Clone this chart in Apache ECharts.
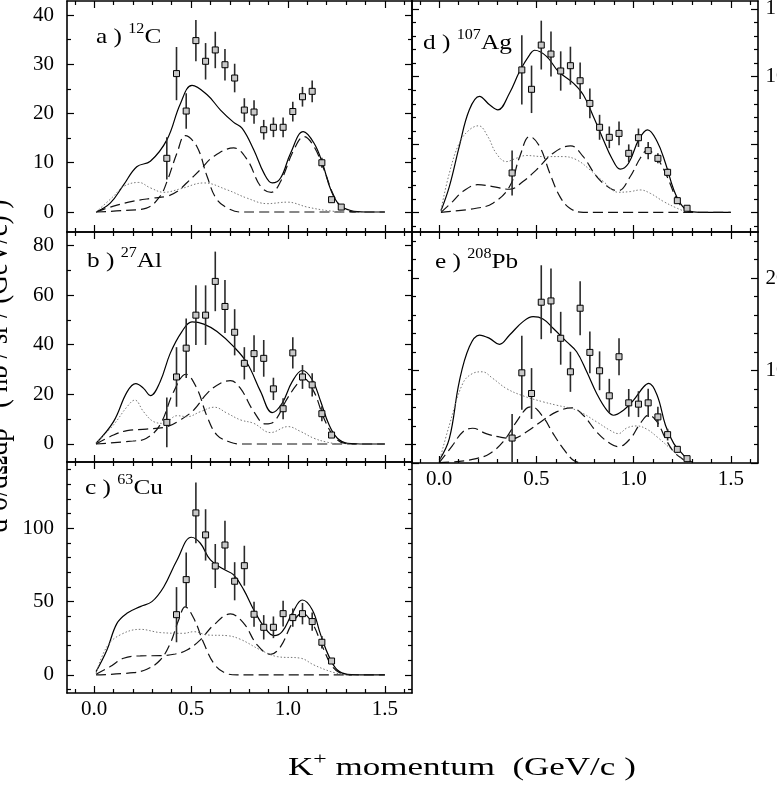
<!DOCTYPE html>
<html lang="en">
<head>
<meta charset="UTF-8">
<title>K+ momentum spectra</title>
<script src="https://cdn.jsdelivr.net/npm/echarts@6/dist/echarts.min.js"></script>
<style>
html, body { margin: 0; padding: 0; background: #fff; }
#main { width: 777px; height: 788px; }
</style>
</head>
<body>
<div id="main"></div>
<script>
// momenta of the measured points (GeV/c)
var momBins = [0.375, 0.425, 0.475, 0.525, 0.575, 0.625, 0.675, 0.725, 0.775, 0.825,
               0.875, 0.925, 0.975, 1.025, 1.075, 1.125, 1.175, 1.225, 1.275];

// x ticks
var xMajor = [0, 0.5, 1.0, 1.5];
var xMinor = [-0.1, 0.1, 0.2, 0.3, 0.4, 0.6, 0.7, 0.8, 0.9, 1.1, 1.2, 1.3, 1.4, 1.6];

// a) 12C
var aVal = [10.9, 28.1, 20.5, 34.8, 30.6, 32.9, 29.9, 27.2, 20.7, 20.3, 16.7, 17.2, 17.2, 20.4, 23.4, 24.5, 10.0, 2.5, 1.0];
var aErr = [4.3, 5.4, 3.6, 4.2, 3.7, 3.7, 3.2, 2.9, 2.4, 2.4, 2.0, 2.0, 2.0, 2.0, 2.0, 2.2, 1.0, 0.5, 0.3];
var aTotal = [[0.01,0],[0.083,1.8],[0.152,5.5],[0.22,9.2],[0.29,10.3],[0.376,14.7],[0.445,22],[0.505,25.7],[0.583,23.8],[0.652,20.7],[0.72,18.2],[0.764,17],[0.824,12.6],[0.876,7.9],[0.919,5.9],[0.962,6.9],[1.014,12],[1.079,16.3],[1.134,14],[1.178,9.9],[1.221,4.5],[1.264,1.5],[1.324,0.3],[1.4,0],[1.5,0]];
var aLow = [[0.01,0],[0.15,0.3],[0.27,0.8],[0.34,3.2],[0.376,6.2],[0.428,12],[0.47,15.5],[0.53,13.3],[0.583,7.2],[0.634,2.5],[0.703,0.5],[0.755,0],[1.5,0]];
var aHigh = [[0.01,0],[0.1,1.2],[0.203,2.2],[0.3,2.8],[0.376,3.2],[0.43,4.2],[0.48,6],[0.548,8.6],[0.617,11.3],[0.72,13],[0.79,10.6],[0.859,5.2],[0.914,4],[0.962,6.2],[1.03,12.6],[1.083,15.3],[1.134,13.3],[1.186,8.6],[1.238,3.2],[1.29,0.5],[1.35,0]];
var aDot = [[0.01,0],[0.1,3.2],[0.152,5.2],[0.23,6],[0.29,4.9],[0.36,4],[0.445,4.7],[0.566,5.9],[0.686,4.5],[0.79,2.8],[0.893,1.7],[0.997,2],[1.1,1],[1.2,0.3],[1.28,0]];

// b) 27Al
var bVal = [8.7, 27, 38.6, 51.9, 51.9, 65.5, 55.4, 45, 32.5, 36.4, 34.5, 22.2, 14.2, 36.7, 27, 23.8, 12.2, 3.6];
var bErr = [10, 12, 12, 12, 12, 12, 10.7, 9.3, 6.5, 7.4, 7.4, 4.5, 4.2, 6.3, 4.8, 4.7, 3, 1.2];
var bTotal = [[0.01,0.3],[0.1,9],[0.17,21],[0.215,24.3],[0.255,22.4],[0.29,19.5],[0.34,25],[0.393,36.6],[0.453,45.3],[0.505,49.2],[0.566,48.3],[0.634,45.3],[0.72,39.2],[0.79,32.5],[0.859,21.1],[0.919,12.6],[0.97,16.4],[1.022,25.1],[1.074,29.6],[1.126,25.8],[1.169,17.1],[1.212,7.7],[1.255,2.3],[1.307,0.3],[1.4,0],[1.5,0]];
var bLow = [[0.01,0],[0.2,1.2],[0.27,2.3],[0.34,7.7],[0.41,21],[0.474,28.1],[0.53,22.4],[0.583,11],[0.634,3.6],[0.703,0.7],[0.755,0],[1.5,0]];
var bHigh = [[0.01,0],[0.1,3.6],[0.17,5.4],[0.27,6],[0.376,7],[0.445,9.7],[0.514,13.7],[0.583,20.4],[0.652,24.5],[0.703,25.5],[0.755,22.4],[0.824,13],[0.884,8.1],[0.928,9],[0.997,18.4],[1.066,25.8],[1.083,26.2],[1.134,21.1],[1.186,10.3],[1.238,3],[1.29,0.3],[1.35,0]];
var bDot = [[0.01,0.3],[0.1,7.7],[0.17,15],[0.21,17.7],[0.255,13],[0.307,9],[0.359,8.3],[0.428,11.4],[0.48,11],[0.548,13],[0.62,14.8],[0.686,12.4],[0.755,9.7],[0.824,8.3],[0.91,4.6],[1.0,7],[1.066,5],[1.134,2.3],[1.203,0.7],[1.255,0]];

// c) 63Cu
var cVal = [41.1, 65, 110.5, 95.5, 74.3, 88.6, 63.9, 74.5, 41.4, 32.5, 32.5, 41.8, 39.1, 41.8, 36.4, 22.3, 9.5];
var cErr = [18.8, 18.5, 20.7, 17.5, 15, 16.6, 13, 13.6, 8.5, 8.3, 7.4, 8.8, 6.2, 7.3, 6.2, 4.2, 2];
var cTotal = [[0.01,2.3],[0.066,17],[0.117,35],[0.169,42],[0.238,46.6],[0.298,50],[0.359,60],[0.428,78.4],[0.502,93.9],[0.548,89.8],[0.6,78.4],[0.669,72],[0.72,68.2],[0.772,58],[0.824,44.3],[0.876,33],[0.928,26.8],[0.97,29.5],[1.022,42],[1.074,51.1],[1.126,44.3],[1.169,27.3],[1.212,12.5],[1.255,3.4],[1.307,0.5],[1.4,0],[1.5,0]];
var cLow = [[0.01,0],[0.203,1.6],[0.272,3.9],[0.341,10.2],[0.393,21.6],[0.436,37.5],[0.47,46.4],[0.514,38.6],[0.566,21.6],[0.617,8],[0.669,1.8],[0.738,0],[1.5,0]];
var cHigh = [[0.01,0.5],[0.083,5.7],[0.152,11.4],[0.238,13],[0.341,13.2],[0.419,14.3],[0.479,17],[0.548,23.9],[0.617,34.1],[0.703,41.6],[0.772,35.2],[0.841,20.5],[0.91,14.1],[0.962,19.3],[1.022,35.2],[1.074,42],[1.126,35.2],[1.178,19.3],[1.229,5.7],[1.281,0.7],[1.33,0]];
var cDot = [[0.01,1.1],[0.066,19.3],[0.134,27.3],[0.238,31.1],[0.341,28.9],[0.462,28.4],[0.514,29.5],[0.583,27.3],[0.686,26.8],[0.755,24.3],[0.859,17],[0.945,12.5],[1.066,11.4],[1.134,6.8],[1.221,2.3],[1.29,0]];

// d) 107Ag
var dVal = [29, 105, 90.7, 123.3, 116.7, 104.2, 108.1, 97, 80.3, 62.7, 55.3, 58.2, 43.5, 55, 45.5, 39.8, 29.5, 8.6, 3];
var dErr = [16.6, 25.5, 17.5, 18, 16.6, 14.5, 14, 13.5, 11, 9.2, 8, 8.8, 6.6, 6.8, 6.4, 3.7, 3, 2, 1];
var dTotal = [[0.009,1.2],[0.052,19],[0.103,48.5],[0.155,75.6],[0.207,85.5],[0.259,79.3],[0.302,75.6],[0.362,88],[0.414,104],[0.466,116.3],[0.491,119.5],[0.552,115],[0.612,104],[0.69,95.3],[0.741,86.7],[0.793,70.7],[0.845,53.4],[0.888,39.9],[0.931,31.8],[0.974,36.2],[1.026,53.4],[1.072,60.8],[1.121,52.2],[1.164,36.2],[1.207,16.5],[1.25,4.7],[1.293,0.7],[1.36,0],[1.5,0]];
var dLow = [[0.009,0],[0.19,3],[0.276,6.7],[0.362,19],[0.414,41],[0.466,55.9],[0.517,48.5],[0.569,28.8],[0.621,11.6],[0.672,3],[0.741,0],[1.5,0]];
var dHigh = [[0.009,0],[0.069,7.9],[0.121,15.3],[0.198,20.4],[0.276,19],[0.362,17],[0.431,22.7],[0.5,31.3],[0.586,43.6],[0.676,49],[0.741,41],[0.81,26.4],[0.879,17.7],[0.922,16],[0.983,26.4],[1.034,39.9],[1.072,45.8],[1.121,39.9],[1.172,26.4],[1.224,9.1],[1.267,1.7],[1.31,0]];
var dDot = [[0.009,1.7],[0.052,28.8],[0.103,51],[0.155,60.8],[0.203,63.8],[0.25,55.9],[0.293,43.6],[0.345,37.4],[0.397,39.9],[0.448,41.9],[0.534,41.1],[0.638,41.1],[0.707,38.7],[0.776,31.3],[0.845,22.7],[0.922,14.8],[0.983,15.3],[1.034,16.5],[1.086,14],[1.155,7.9],[1.224,3],[1.276,0]];

// e) 208Pb
var eVal = [27, 97.6, 75.2, 174, 175.4, 135, 98.7, 167.5, 119.7, 99.8, 72.7, 115, 65.1, 63.7, 65.1, 49.9, 30.7, 14.8, 4.7];
var eErr = [26, 40, 27.5, 40, 35, 28.6, 21.7, 29.3, 22.6, 21, 18.4, 20, 15, 14, 15.3, 10.9, 6.3, 3.5, 1.5];
var eTotal = [[0.0,2.9],[0.052,26.4],[0.103,87.9],[0.155,125.9],[0.207,138.5],[0.259,134.9],[0.31,128.4],[0.362,138.5],[0.431,153],[0.483,158.4],[0.534,155.9],[0.586,145.8],[0.655,131.3],[0.707,120.4],[0.759,98.7],[0.81,75.2],[0.862,57.1],[0.897,51.7],[0.948,57.1],[1.0,68],[1.052,82.5],[1.078,86.1],[1.121,73.4],[1.164,40.9],[1.207,21],[1.25,10.1],[1.276,4],[1.3,1]];
var eLow = [[0.0,0.4],[0.103,1.8],[0.19,4.7],[0.259,10.1],[0.328,22.8],[0.397,44.5],[0.448,59],[0.474,60.8],[0.534,49.9],[0.586,31.8],[0.638,15.6],[0.69,2.9],[0.724,0.4]];
var eHigh = [[0.0,0.4],[0.069,19.2],[0.121,33.6],[0.172,37.6],[0.241,31.8],[0.31,28.2],[0.376,26.4],[0.448,33.6],[0.534,46.3],[0.603,55.3],[0.681,59.7],[0.741,51.7],[0.81,33.6],[0.879,21],[0.922,17.7],[0.983,26.4],[1.034,42.7],[1.078,51.7],[1.121,44.5],[1.164,26.4],[1.207,11.9],[1.25,4.7],[1.276,1.1]];
var eDot = [[0.0,1.1],[0.052,40.9],[0.121,86],[0.172,96.9],[0.221,98.7],[0.276,91.5],[0.345,80.7],[0.431,72.7],[0.534,66.2],[0.603,62.6],[0.707,57.1],[0.81,44.5],[0.879,35.4],[0.922,31.8],[0.966,38],[1.017,40.1],[1.069,36.5],[1.121,28.2],[1.19,15.6],[1.241,6.5],[1.276,1.1]];

// y ticks per panel
var aYMajor = [0, 10, 20, 30, 40],  aYMinor = [5, 15, 25, 35];
var bYMajor = [0, 20, 40, 60, 80],  bYMinor = [10, 30, 50, 70];
var cYMajor = [0, 50, 100],         cYMinor = [-10, 10, 20, 30, 40, 60, 70, 80, 90, 110, 120, 130, 140];
var dYMajor = [0, 50, 100, 150],    dYMinor = [-10, 10, 20, 30, 40, 60, 70, 80, 90, 110, 120, 130, 140];
var eYMajor = [0, 100, 200],        eYMinor = [20, 40, 60, 80, 120, 140, 160, 180, 220, 240];

var FONT = '"Liberation Serif", "DejaVu Serif", serif';

var panels = [
    { grid: {left: 67,  top: 1,   width: 345, height: 231}, yMin: -4.06, yMax: 42.84, yMajor: aYMajor, yMinor: aYMinor,
      x: momBins, val: aVal, err: aErr, curves: [aTotal, aLow, aHigh, aDot], yLab: 'left', xLab: false },
    { grid: {left: 67,  top: 232, width: 345, height: 230}, yMin: -7.26, yMax: 85.4, yMajor: bYMajor, yMinor: bYMinor,
      x: momBins.slice(0, 18), val: bVal, err: bErr, curves: [bTotal, bLow, bHigh, bDot], yLab: 'left', xLab: false },
    { grid: {left: 67,  top: 462, width: 345, height: 231}, yMin: -12.3, yMax: 145.2, yMajor: cYMajor, yMinor: cYMinor,
      x: momBins.slice(1, 18), val: cVal, err: cErr, curves: [cTotal, cLow, cHigh, cDot], yLab: 'left', xLab: true },
    { grid: {left: 412, top: 1,   width: 346, height: 231}, yMin: -14.5, yMax: 155.8, yMajor: dYMajor, yMinor: dYMinor,
      x: momBins, val: dVal, err: dErr, curves: [dTotal, dLow, dHigh, dDot], yLab: 'right', xLab: false },
    { grid: {left: 412, top: 232, width: 346, height: 231}, yMin: 0, yMax: 250, yMajor: eYMajor, yMinor: eYMinor,
      x: momBins, val: eVal, err: eErr, curves: [eTotal, eLow, eHigh, eDot], yLab: 'right', xLab: true }
];

var grids = [], xAxes = [], yAxes = [], series = [];

function axisBase(extra) {
    var base = {
        type: 'value',
        splitLine: {show: false},
        axisLine: {show: true, onZero: false, lineStyle: {color: '#000', width: 1.6}},
        axisLabel: {show: false},
        z: 5
    };
    return Object.assign(base, extra);
}

panels.forEach(function (p, i) {
    grids.push(Object.assign({containLabel: false, outerBoundsMode: 'none'}, p.grid));
    ['bottom', 'top'].forEach(function (pos) {
        var showLab = pos === 'bottom' && p.xLab;
        xAxes.push(axisBase({
            gridIndex: i, position: pos, min: -0.14, max: 1.64,
            axisTick: {show: true, inside: true, length: 7, customValues: xMajor, lineStyle: {color: '#000', width: 1.2}},
            axisLabel: {show: showLab, customValues: xMajor, margin: 6, color: '#000', fontFamily: FONT, fontSize: 21,
                        formatter: function (v) { return v.toFixed(1); }}
        }));
        xAxes.push(axisBase({
            gridIndex: i, position: pos, min: -0.14, max: 1.64,
            axisLine: {show: false, onZero: false},
            axisTick: {show: true, inside: true, length: 4, customValues: xMinor, lineStyle: {color: '#000', width: 1.2}}
        }));
    });
    ['left', 'right'].forEach(function (pos) {
        var showLab = pos === p.yLab;
        var lab = {show: showLab, customValues: p.yMajor, color: '#000', fontFamily: FONT, fontSize: 21, margin: 13};
        if (pos === 'right') { lab.align = 'right'; lab.margin = 39; }
        yAxes.push(axisBase({
            gridIndex: i, position: pos, min: p.yMin, max: p.yMax,
            axisTick: {show: true, inside: true, length: 7, customValues: p.yMajor, lineStyle: {color: '#000', width: 1.2}},
            axisLabel: lab
        }));
        yAxes.push(axisBase({
            gridIndex: i, position: pos, min: p.yMin, max: p.yMax,
            axisLine: {show: false, onZero: false},
            axisTick: {show: true, inside: true, length: 4, customValues: p.yMinor, lineStyle: {color: '#000', width: 1.2}}
        }));
    });

    var xi = i * 4, yi = i * 4;
    var styles = [
        {color: '#000', width: 1.2, type: 'solid'},
        {color: '#111', width: 1.2, type: [10, 5]},
        {color: '#111', width: 1.2, type: [10, 5]},
        {color: '#777', width: 1, type: [1.5, 2]}
    ];
    p.curves.forEach(function (c, k) {
        series.push({
            type: 'line', xAxisIndex: xi, yAxisIndex: yi, data: c,
            smooth: 0.4, showSymbol: false, symbol: 'none', silent: true,
            lineStyle: styles[k], z: 2
        });
    });

    var pts = p.x.map(function (x, j) { return [x, p.val[j], p.err[j]]; });
    series.push({
        type: 'custom', xAxisIndex: xi, yAxisIndex: yi, data: pts, clip: true, z: 3,
        encode: {x: 0, y: 1},
        renderItem: function (params, api) {
            var x = api.value(0), y = api.value(1), e = api.value(2);
            var lo = api.coord([x, y - e]), hi = api.coord([x, y + e]);
            return {type: 'line', shape: {x1: lo[0], y1: lo[1], x2: hi[0], y2: hi[1]},
                    style: {stroke: '#2a2a2a', lineWidth: 1.6}};
        }
    });
    series.push({
        type: 'scatter', xAxisIndex: xi, yAxisIndex: yi, data: pts, z: 4,
        symbol: 'rect', symbolSize: 6,
        itemStyle: {color: '#c8c8c8', borderColor: '#000', borderWidth: 1, opacity: 1}
    });
});

// panel tag, e.g. "a ) 12C" with the mass number raised
function panelLabel(x, y, letter, mass, elem) {
    return {
        type: 'text', x: x, y: y, scaleX: 1.15, z: 10,
        style: {
            text: '{n|' + letter + ' ) }{s|' + mass + '}{n|' + elem + '}',
            rich: {
                n: {fontFamily: FONT, fontSize: 22, fill: '#000', verticalAlign: 'bottom', lineHeight: 26},
                s: {fontFamily: FONT, fontSize: 14, fill: '#000', verticalAlign: 'top', lineHeight: 14}
            }
        }
    };
}

var chart = echarts.init(document.getElementById('main'), null, {renderer: 'canvas'});
chart.setOption({
    animation: false,
    backgroundColor: '#fff',
    grid: grids,
    xAxis: xAxes,
    yAxis: yAxes,
    series: series,
    graphic: [
        panelLabel(96, 22, 'a', '12', 'C'),
        panelLabel(87, 246, 'b', '27', 'Al'),
        panelLabel(85, 473, 'c', '63', 'Cu'),
        panelLabel(423, 28, 'd', '107', 'Ag'),
        panelLabel(435, 247, 'e', '208', 'Pb'),
        {
            type: 'text', x: 288, y: 751, scaleX: 1.4, z: 10,
            style: {
                text: '{n|K}{s|+}{n| momentum  (GeV/c )}',
                rich: {
                    n: {fontFamily: FONT, fontSize: 25, fill: '#000', verticalAlign: 'bottom', lineHeight: 30},
                    s: {fontFamily: FONT, fontSize: 17, fill: '#000', verticalAlign: 'top', lineHeight: 17}
                }
            }
        },
        {
            type: 'text', x: 15, y: 366, rotation: Math.PI / 2, scaleY: 1.2, z: 10,
            style: {
                text: 'd\u00b2\u03c3/d\u03a9dp   ( nb / sr / (GeV/c) )',
                fontFamily: FONT, fontSize: 27, fill: '#000',
                align: 'center', verticalAlign: 'bottom'
            }
        }
    ]
});
</script>
</body>
</html>
